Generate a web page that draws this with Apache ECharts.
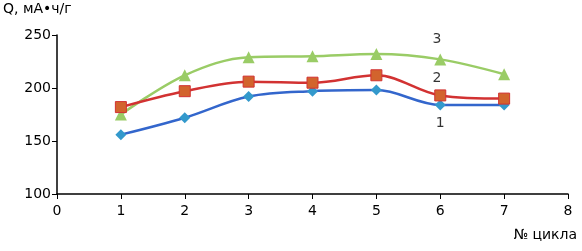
<!DOCTYPE html>
<html><head><meta charset="utf-8">
<script src="https://cdn.jsdelivr.net/npm/echarts@6/dist/echarts.min.js"></script>
<style>html,body{margin:0;padding:0;background:#fff}#c{width:582px;height:251px}</style>
</head><body><div id="c"></div>
<script>
const cycles = [1, 2, 3, 4, 5, 6, 7];
const series1 = [156, 172, 192, 197, 198, 184, 184];
const series2 = [182, 197, 206, 205, 212, 193, 190];
const series3 = [175, 212, 229, 230, 232, 227, 213];
const seriesNames = ['1', '2', '3'];
const labelX = [6.0, 5.95, 5.95];
const labelY = [167, 209, 246];
const xTicks = [0, 1, 2, 3, 4, 5, 6, 7, 8];
const yTicks = [100, 150, 200, 250];

const font = 'DejaVu Sans, sans-serif';
const pair = v => cycles.map((c, i) => [c, v[i]]);
const chart = echarts.init(document.getElementById('c'), null, {renderer: 'canvas'});
chart.setOption({
  animation: false,
  backgroundColor: '#fff',
  grid: {left: 57, right: 14, top: 35, bottom: 57},
  title: [
    {text: 'Q, мА•ч/г', left: 3, top: 2, padding: 0, textStyle: {fontFamily: font, fontSize: 14, fontWeight: 'normal', color: '#000'}},
    {text: '№ цикла', right: 5, top: 228, padding: 0, textStyle: {fontFamily: font, fontSize: 14, fontWeight: 'normal', color: '#000'}}
  ],
  xAxis: {
    type: 'value', min: xTicks[0], max: xTicks[xTicks.length - 1], interval: 1,
    axisLine: {lineStyle: {color: '#000', width: 1.5}},
    axisTick: {show: true, length: 5, lineStyle: {color: '#000'}},
    axisLabel: {fontFamily: font, fontSize: 14, color: '#000', margin: 10},
    splitLine: {show: false}
  },
  yAxis: {
    type: 'value', min: yTicks[0], max: yTicks[yTicks.length - 1], interval: 50,
    axisLine: {show: true, lineStyle: {color: '#000', width: 1.5}},
    axisTick: {show: true, length: 5, lineStyle: {color: '#000'}},
    axisLabel: {fontFamily: font, fontSize: 14, color: '#000', margin: 6},
    splitLine: {show: false}
  },
  series: [
    {type: 'line', data: pair(series1), smooth: 0.35, symbol: 'diamond', symbolSize: 11,
     lineStyle: {color: '#3366cc', width: 2.5}, itemStyle: {color: '#3399cc'}, z: 3},
    {type: 'line', data: pair(series2), smooth: 0.35, symbol: 'rect', symbolSize: 11,
     lineStyle: {color: '#d23232', width: 2.5}, itemStyle: {color: '#d2642d', borderColor: '#d23232', borderWidth: 1}, z: 4},
    {type: 'line', data: pair(series3), smooth: 0.35, symbol: 'triangle', symbolSize: 12,
     lineStyle: {color: '#9acc66', width: 2.5}, itemStyle: {color: '#9acc66'}, z: 2},
    {type: 'scatter', symbolSize: 0, silent: true,
     data: seriesNames.map((n, i) => ({value: [labelX[i], labelY[i]], name: n})),
     label: {show: true, position: 'inside', formatter: p => p.name, fontFamily: font, fontSize: 14, color: '#000'}}
  ]
});
</script></body></html>
